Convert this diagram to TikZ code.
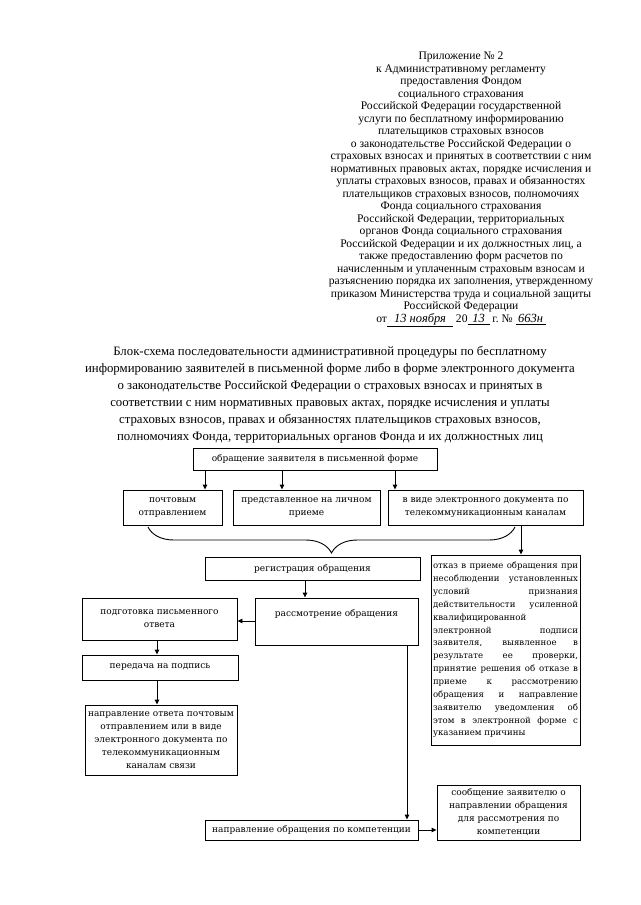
\documentclass[tikz,border=0pt]{standalone}
\usepackage{fontspec}
\setmainfont{Liberation Serif}
\newfontfamily\boxfont{DejaVu Serif}
\usetikzlibrary{arrows.meta,decorations.pathreplacing}
\newcommand\jline[1]{\makebox[145pt][s]{\spaceskip=0.3em plus 1fil\relax #1}}
\begin{document}
\begin{tikzpicture}[x=1pt,y=-1pt,
  box/.style={draw, line width=0.9pt, inner sep=2pt, align=center,
    font=\boxfont\fontsize{9}{13}\selectfont},
  arr/.style={line width=0.9pt, -{Triangle[length=5pt,width=4.5pt]}},
  ln/.style={line width=0.9pt}]
\useasboundingbox (0,0) rectangle (640,905);
\fill[white] (0,0) rectangle (640,905);

% header
\node[align=center, inner sep=0, anchor=north,
  font=\fontsize{11.6}{12.5}\selectfont] (hdr) at (461,52) {%
Приложение №~2\\
к Административному регламенту\\
предоставления Фондом\\
социального страхования\\
Российской Федерации государственной\\
услуги по бесплатному информированию\\
плательщиков страховых взносов\\
о законодательстве Российской Федерации о\\
страховых взносах и принятых в соответствии с ним\\
нормативных правовых актах, порядке исчисления и\\
уплаты страховых взносов, правах и обязанностях\\
плательщиков страховых взносов, полномочиях\\
Фонда социального страхования\\
Российской Федерации, территориальных\\
органов Фонда социального страхования\\
Российской Федерации и их должностных лиц, а\\
также предоставлению форм расчетов по\\
начисленным и уплаченным страховым взносам и\\
разъяснению порядка их заполнения, утвержденному\\
приказом Министерства труда и социальной защиты\\
Российской Федерации\\
от\underline{\makebox[66pt]{\itshape\fontsize{12.5}{12}\selectfont 13 ноября}}~20\underline{\makebox[22pt]{\itshape\fontsize{12.5}{12}\selectfont 13}}~г.~№~\underline{\makebox[30pt]{\itshape\fontsize{12.5}{12}\selectfont 663н}}};

% title
\node[align=center, inner sep=0, anchor=north,
  font=\fontsize{12.8}{17}\selectfont] (ttl) at (330,346) {%
Блок-схема последовательности административной процедуры по бесплатному\\
информированию заявителей в письменной форме либо в форме электронного документа\\
о законодательстве Российской Федерации о страховых взносах и принятых в\\
соответствии с ним нормативных правовых актах, порядке исчисления и уплаты\\
страховых взносов, правах и обязанностях плательщиков страховых взносов,\\
полномочиях Фонда, территориальных органов Фонда и их должностных лиц};

% boxes
\node[box, minimum width=244, minimum height=22] (top) at (315,459) {обращение заявителя в письменной форме};
\node[box, minimum width=99, minimum height=35] (pocht) at (172.5,507.5) {почтовым\\отправлением};
\node[box, minimum width=147, minimum height=35] (lich) at (306.5,507.5) {представленное на личном\\приеме};
\node[box, minimum width=195, minimum height=35] (elek) at (485.5,507.5) {в виде электронного документа по\\телекоммуникационным каналам};
\node[box, minimum width=215, minimum height=23] (reg) at (312.5,568.5) {регистрация обращения};
\node[box, text width=145, align=left, minimum height=190,
  font=\boxfont\fontsize{8.6}{12.85}\selectfont] (otk) at (505.5,650) {%
\jline{отказ в приеме обращения при}\\
\jline{несоблюдении установленных}\\
\jline{условий признания}\\
\jline{действительности усиленной}\\
квалифицированной\\
\jline{электронной подписи}\\
\jline{заявителя, выявленное в}\\
\jline{результате ее проверки,}\\
\jline{принятие решения об отказе в}\\
\jline{приеме к рассмотрению}\\
\jline{обращения и направление}\\
\jline{заявителю уведомления об}\\
\jline{этом в электронной форме с}\\
указанием причины};
\node[box, minimum width=163, text height=16, text depth=27] (rass) at (336.5,621.5) {рассмотрение обращения};
\node[box, minimum width=155, minimum height=42] (podg) at (159.5,619) {подготовка письменного\\ответа};
\node[box, minimum width=156, minimum height=25] (pered) at (160,667.5) {передача на подпись};
\node[box, minimum width=152, minimum height=70] (notv) at (161,740) {направление ответа почтовым\\отправлением или в виде\\электронного документа по\\телекоммуникационным\\каналам связи};
\node[box, minimum width=213, minimum height=20] (nkomp) at (311.5,830) {направление обращения по компетенции};
\node[box, minimum width=143, minimum height=55] (soob) at (508.5,812.5) {сообщение заявителю о\\направлении обращения\\для рассмотрения по\\компетенции};

% connectors
\draw[arr] (205,0 |- top.south) -- (205,0 |- pocht.north);
\draw[arr] (282,0 |- top.south) -- (282,0 |- lich.north);
\draw[arr] (395,0 |- top.south) -- (395,0 |- elek.north);
\coordinate (bl) at (148,527);
\coordinate (br) at (515,527);
\draw[ln, decorate, decoration={brace, mirror, amplitude=26pt, aspect=0.5}] (bl) -- (br);
\draw[arr] (521,0 |- elek.south) -- (521,0 |- otk.north);
\draw[arr] (305,0 |- reg.south) -- (305,0 |- rass.north);
\draw[arr] (rass.west |- 0,621) -- (podg.east |- 0,621);
\draw[arr] (157,0 |- podg.south) -- (157,0 |- pered.north);
\draw[arr] (157,0 |- pered.south) -- (157,0 |- notv.north);
\draw[arr] (407,0 |- rass.south) -- (407,0 |- nkomp.north);
\draw[arr] (nkomp.east) -- (soob.west |- nkomp.east);
\end{tikzpicture}
\end{document}
